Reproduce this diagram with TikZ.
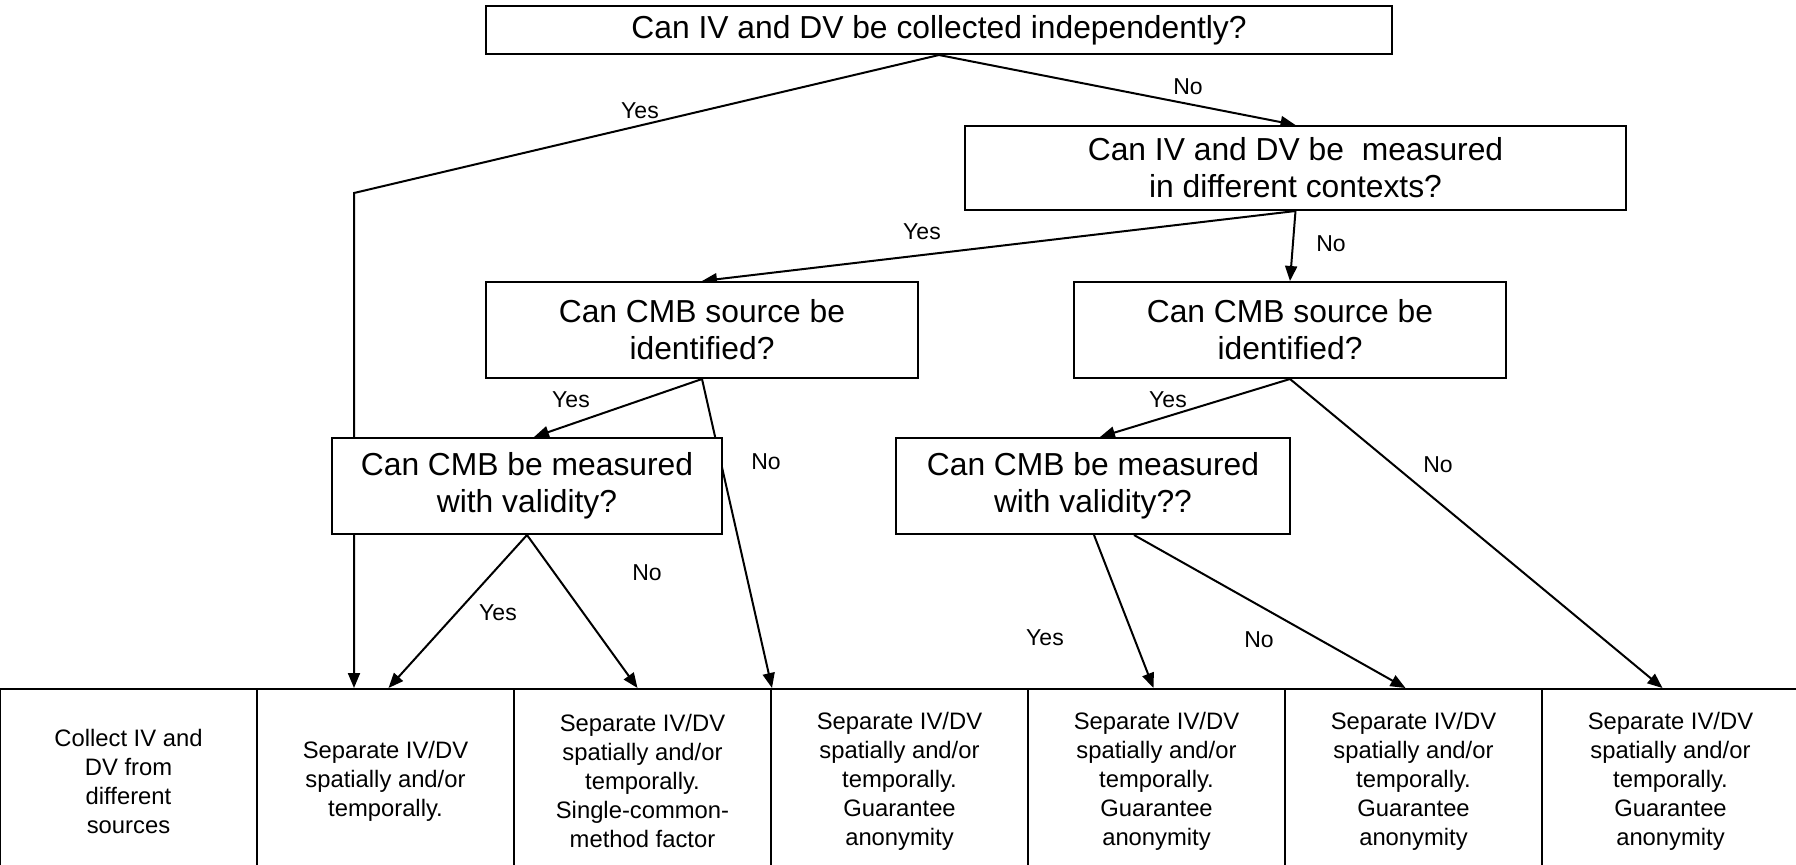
\documentclass[tikz,border=0pt]{standalone}
\usepackage{fontspec}
\setmainfont{Liberation Sans}
\usetikzlibrary{arrows.meta,calc}
\pgfdeclarelayer{bg}
\pgfsetlayers{bg,main}
\begin{document}
\begin{tikzpicture}[x=0.5pt,y=-0.5pt,
  qbox/.style={draw, line width=1pt, fill=white, inner sep=0pt, align=center,
    font=\fontsize{15.9}{18.4}\selectfont},
  cell/.style={draw, line width=1pt, fill=white, inner sep=0pt, minimum width=128.5pt,
    minimum height=92pt, align=center, font=\fontsize{11.9}{14.5}\selectfont},
  arr/.style={line width=1pt, -{Triangle[length=7.5pt,width=6pt]}},
  lab/.style={font=\fontsize{11.5}{13}\selectfont, inner sep=0pt}]
\useasboundingbox (0,0) rectangle (1796,864);
\clip (0,0) rectangle (1796,864);

% question boxes
\node[qbox, minimum width=453pt, minimum height=24pt] (top) at (939,30)
  {Can IV and DV be collected independently?};
\node[qbox, minimum width=330.5pt, minimum height=42pt] (b2) at (1295.5,168)
  {Can IV and DV be\ \ measured\\in different contexts?};
\node[qbox, minimum width=216pt, minimum height=48pt] (b3) at (702,330)
  {Can CMB source be\\identified?};
\node[qbox, minimum width=216pt, minimum height=48pt] (b4) at (1290,330)
  {Can CMB source be\\identified?};
\node[qbox, minimum width=195pt, minimum height=48pt] (b5) at (527,486)
  {Can CMB be measured\\with validity?};
\node[qbox, minimum width=197pt, minimum height=48pt] (b6) at (1093,486)
  {Can CMB be measured\\with validity??};

% bottom row of outcomes
\node[cell] (c1) at (128.5,781) {Collect IV and\\DV from\\different\\sources};
\node[cell] (c2) at (385.5,781) {Separate IV/DV\\spatially and/or\\temporally.};
\node[cell] (c3) at (642.5,781) {Separate IV/DV\\spatially and/or\\temporally.\\Single-common-\\method factor};
\node[cell] (c4) at (899.5,781) {Separate IV/DV\\spatially and/or\\temporally.\\Guarantee\\anonymity};
\node[cell] (c5) at (1156.5,781) {Separate IV/DV\\spatially and/or\\temporally.\\Guarantee\\anonymity};
\node[cell] (c6) at (1413.5,781) {Separate IV/DV\\spatially and/or\\temporally.\\Guarantee\\anonymity};
\node[cell] (c7) at (1670.5,781) {Separate IV/DV\\spatially and/or\\temporally.\\Guarantee\\anonymity};

% connectors
\coordinate (yc) at (354,193);
\begin{pgfonlayer}{bg}
\draw[arr] (top.south) -- (yc) -- (yc |- c2.north);
\draw[arr] (top.south) -- (b2.north);
\draw[arr] (b2.south) -- (b3.north);
\draw[arr] (b2.south) -- (b4.north);
\draw[arr] (b3.south) -- ([xshift=3.5pt]b5.north);
\draw[arr] (b3.south) -- (c3.north east);
\draw[arr] (b5.south) -- ([xshift=1.5pt]c2.north);
\draw[arr] (b5.south) -- ([xshift=-2.5pt]c3.north);
\draw[arr] (b4.south) -- ([xshift=3.5pt]b6.north);
\draw[arr] (b4.south) -- ([xshift=-4pt]c7.north);
\draw[arr] ([xshift=0.5pt]b6.south) -- ([xshift=-1.5pt]c5.north);
\draw[arr] ([xshift=20.5pt]b6.south) -- ([xshift=-4pt]c6.north);
\end{pgfonlayer}

% labels
\node[lab] (l1) at (640,111) {Yes};
\node[lab] (l2) at (1188,87) {No};
\node[lab] (l3) at (922,232) {Yes};
\node[lab] (l4) at (1331,244) {No};
\node[lab] (l5) at (571,400) {Yes};
\node[lab] (l6) at (766,462) {No};
\node[lab] (l7) at (498,613) {Yes};
\node[lab] (l8) at (647,573) {No};
\node[lab] (l9) at (1168,400) {Yes};
\node[lab] (l10) at (1438,465) {No};
\node[lab] (l11) at (1045,638) {Yes};
\node[lab] (l12) at (1259,640) {No};
\end{tikzpicture}
\end{document}
